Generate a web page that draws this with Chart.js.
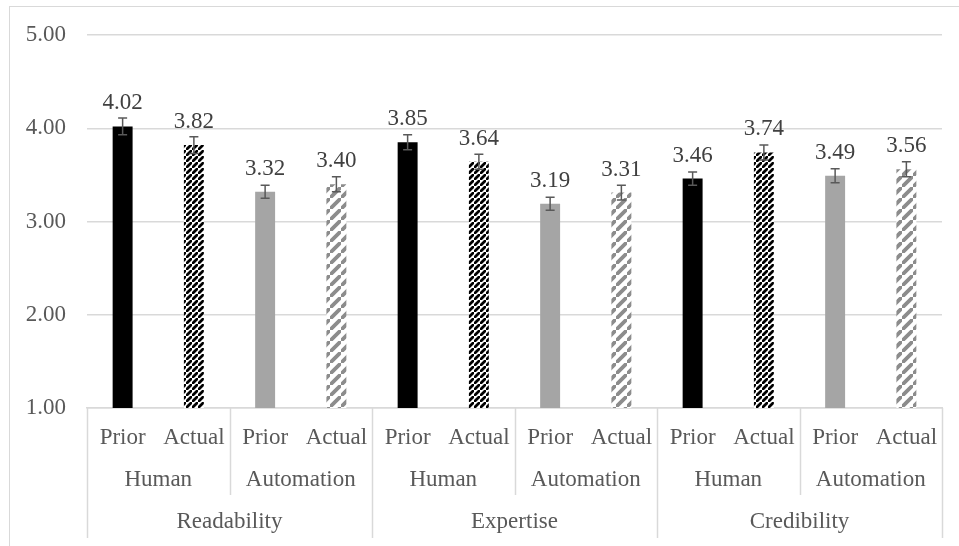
<!DOCTYPE html>
<html>
<head>
<meta charset="utf-8">
<script src="https://cdn.jsdelivr.net/npm/chart.js@4.4.1/dist/chart.umd.min.js"></script>
<style>
  body { margin: 0; background: #fff; }
  #wrap { position: relative; width: 959px; height: 546px; overflow: hidden; }
  #frame { position: absolute; left: 9px; top: 6px; width: 1000px; height: 1000px; border: 1px solid #d9d9d9; }
  canvas { position: absolute; left: 0; top: 0; }
</style>
</head>
<body>
<div id="wrap">
  <div id="frame"></div>
  <canvas id="chart" width="959" height="546"></canvas>
</div>
<script>
// data
const measures = ['Readability', 'Expertise', 'Credibility'];
const sources = ['Human', 'Automation'];
const timings = ['Prior', 'Actual'];

const humanPrior = [4.02, 3.85, 3.46];
const humanActual = [3.82, 3.64, 3.74];
const autoPrior = [3.32, 3.19, 3.49];
const autoActual = [3.40, 3.31, 3.56];

const humanPriorErr = [0.09, 0.08, 0.07];
const humanActualErr = [0.09, 0.08, 0.08];
const autoPriorErr = [0.07, 0.07, 0.075];
const autoActualErr = [0.08, 0.08, 0.08];

const FONT = '"Liberation Serif", "Times New Roman", serif';
const TEXT = '#595959';

function stripes(color, size, width) {
  const c = document.createElement('canvas');
  c.width = size; c.height = size;
  const g = c.getContext('2d');
  g.fillStyle = '#fff';
  g.fillRect(0, 0, size, size);
  g.strokeStyle = color;
  g.lineWidth = width;
  g.beginPath();
  g.moveTo(-size, size * 2); g.lineTo(size * 2, -size);
  g.moveTo(-size * 2, size); g.lineTo(size, -size * 2);
  g.moveTo(0, size * 3); g.lineTo(size * 3, 0);
  g.stroke();
  return g.createPattern(c, 'repeat');
}

const fills = ['#000000', stripes('#000000', 6, 2.8), '#a5a5a5', stripes('#8c8c8c', 11, 3.8)];

// flatten into the 12 bars, in axis order
const labels = [], values = [], errors = [], colors = [];
measures.forEach((m, i) => {
  [[humanPrior, humanPriorErr], [humanActual, humanActualErr], [autoPrior, autoPriorErr], [autoActual, autoActualErr]]
    .forEach((pair, k) => {
      labels.push(timings[k % 2]);
      values.push(pair[0][i]);
      errors.push(pair[1][i]);
      colors.push(fills[k]);
    });
});

const errorBars = {
  id: 'errorBars',
  afterDatasetsDraw(chart) {
    const ctx = chart.ctx, y = chart.scales.y;
    const meta = chart.getDatasetMeta(0);
    ctx.save();
    ctx.strokeStyle = '#595959';
    ctx.lineWidth = 1.5;
    meta.data.forEach((bar, i) => {
      const top = y.getPixelForValue(values[i] + errors[i]);
      const bot = y.getPixelForValue(values[i] - errors[i]);
      ctx.beginPath();
      ctx.moveTo(bar.x, top); ctx.lineTo(bar.x, bot);
      ctx.moveTo(bar.x - 4.5, top); ctx.lineTo(bar.x + 4.5, top);
      ctx.moveTo(bar.x - 4.5, bot); ctx.lineTo(bar.x + 4.5, bot);
      ctx.stroke();
    });
    // value labels
    ctx.fillStyle = '#404040';
    ctx.font = '23px ' + FONT;
    ctx.textAlign = 'center';
    ctx.textBaseline = 'alphabetic';
    meta.data.forEach((bar, i) => {
      ctx.fillText(values[i].toFixed(2), bar.x, bar.y - 17);
    });
    ctx.restore();
  }
};

const groupAxis = {
  id: 'groupAxis',
  afterDraw(chart) {
    const ctx = chart.ctx, x = chart.scales.x, area = chart.chartArea;
    const edge = (i) => i <= 0 ? area.left : i >= labels.length ? area.right
      : (x.getPixelForValue(i - 1) + x.getPixelForValue(i)) / 2;
    ctx.save();
    ctx.strokeStyle = '#d9d9d9';
    ctx.lineWidth = 1.5;
    ctx.beginPath();
    for (let i = 0; i <= labels.length; i += 2) {
      const px = Math.round(edge(i)) + 0.5;
      const long = i % 4 === 0;
      ctx.moveTo(px, area.bottom);
      ctx.lineTo(px, area.bottom + (long ? 130 : 87));
    }
    ctx.stroke();
    ctx.fillStyle = TEXT;
    ctx.font = '23px ' + FONT;
    ctx.textAlign = 'center';
    ctx.textBaseline = 'middle';
    for (let i = 0; i < labels.length; i += 2) {
      ctx.fillText(sources[(i / 2) % 2], (edge(i) + edge(i + 2)) / 2, area.bottom + 72);
    }
    for (let i = 0; i < labels.length; i += 4) {
      ctx.fillText(measures[i / 4], (edge(i) + edge(i + 4)) / 2, area.bottom + 114);
    }
    ctx.restore();
  }
};

new Chart(document.getElementById('chart'), {
  type: 'bar',
  data: {
    labels: labels,
    datasets: [{
      data: values,
      backgroundColor: colors,
      borderWidth: 0,
      categoryPercentage: 1,
      barPercentage: 0.28
    }]
  },
  options: {
    responsive: false,
    animation: false,
    layout: { padding: { top: 35, right: 17, bottom: 0, left: 0 } },
    plugins: { legend: { display: false }, tooltip: { enabled: false } },
    scales: {
      x: {
        grid: { display: false },
        border: { color: '#d9d9d9', width: 1.5 },
        ticks: { color: TEXT, font: { family: FONT, size: 23 }, padding: 8, maxRotation: 0, autoSkip: false },
        afterFit(s) { s.height = 138; }
      },
      y: {
        min: 1, max: 5,
        grid: { color: '#d9d9d9', lineWidth: 1.5, drawTicks: false },
        border: { display: false },
        ticks: { stepSize: 1, color: TEXT, font: { family: FONT, size: 23 }, padding: 21,
          callback: (v) => v.toFixed(2) },
        afterFit(s) { s.width = 87; }
      }
    }
  },
  plugins: [errorBars, groupAxis]
});
</script>
</body>
</html>
